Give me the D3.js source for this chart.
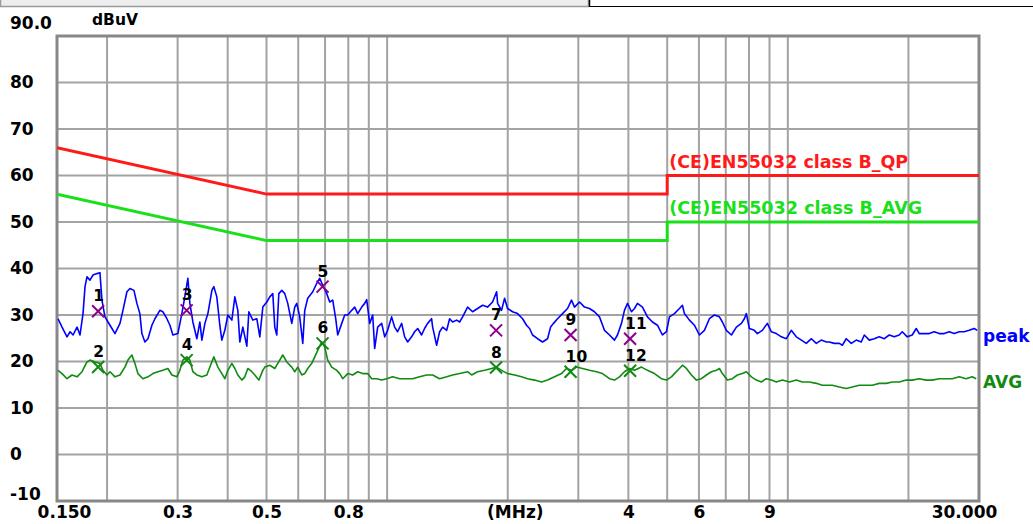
<!DOCTYPE html>
<html>
<head>
<meta charset="utf-8">
<script src="https://cdn.jsdelivr.net/npm/d3@7/dist/d3.min.js"></script>
<style>
  html, body { margin: 0; padding: 0; background: #ffffff; }
  svg { display: block; }
  text { font-family: "DejaVu Sans", sans-serif; font-weight: bold; }
</style>
</head>
<body>
<svg id="chart" width="1033" height="524"></svg>
<script>
// ---- measured spectrum: peak detector trace (MHz, dBuV) ----
const freqPeak = [0.1509,0.1544,0.1589,0.1617,0.1645,0.1683,0.1712,0.1742,0.1762,0.1782,
  0.1813,0.1845,0.1887,0.1920,0.1942,0.1976,0.2011,0.2057,0.2093,0.2154,
  0.2191,0.2242,0.2281,0.2334,0.2374,0.2415,0.2443,0.2486,0.2530,0.2588,
  0.2633,0.2709,0.2756,0.2821,0.2870,0.2920,0.3004,0.3074,0.3127,0.3182,
  0.3219,0.3275,0.3351,0.3409,0.3449,0.3509,0.3570,0.3653,0.3694,0.3758,
  0.3823,0.3868,0.3935,0.4004,0.4097,0.4168,0.4240,0.4289,0.4364,0.4465,
  0.4517,0.4622,0.4729,0.4811,0.4895,
  0.5008,0.5095,0.5184,0.5243,0.5304,0.5366,0.5459,0.5553,0.5649,0.5781,
  0.5881,0.5949,0.6052,0.6158,0.6229,0.6337,0.6522,0.6673,0.6789,0.6907,
  0.7067,0.7190,0.7315,0.7442,0.7528,0.7704,0.7837,0.7973,0.8158,0.8300,
  0.8444,0.8641,0.8791,0.8892,0.9047,0.9204,0.9310,0.9471,0.9692,0.9860,
  1.003,1.026,1.044,1.062,1.087,1.106,1.125,1.151,1.171,1.192,
  1.219,1.240,1.262,1.291,1.299,1.329,1.352,1.376,1.408,1.432,
  1.457,1.491,1.517,1.543,1.588,
  1.634,1.682,1.731,1.781,1.833,1.876,1.887,1.930,1.964,1.998,
  2.056,2.116,2.178,2.228,2.267,2.306,2.374,2.443,2.514,2.558,
  2.602,2.662,2.740,2.820,2.885,2.935,3.021,3.109,3.199,3.292,
  3.388,3.487,3.589,3.693,3.757,3.845,3.911,3.980,4.072,4.143,
  4.215,4.337,4.463,4.594,4.727,4.865,4.978,5.065,5.212,
  5.364,5.457,5.520,5.681,5.846,6.017,6.192,6.372,6.558,6.749,
  6.866,7.025,7.231,7.441,7.658,7.790,7.880,8.018,8.251,8.394,
  8.639,8.890,9.097,9.362,9.635,9.915,10.20,10.50,10.81,11.12,
  11.45,11.78,12.12,12.48,
  12.69,13.06,13.44,13.68,13.99,14.40,14.82,15.25,15.52,15.97,
  16.43,16.91,17.41,17.91,18.43,18.97,19.30,19.86,20.44,20.92,
  21.28,21.90,22.54,23.19,23.87,24.56,25.28,26.02,26.78,27.55,
  28.36,29.18,29.69];
const dbPeak = [29.2,27.4,25.3,26.4,25.7,27.4,25.7,30.3,36.1,38.2,
  37.5,38.6,38.9,39.1,33.2,29.6,28.5,27.1,26.0,28.2,
  31.0,35.0,35.7,35.3,32.5,30.3,26.0,24.2,24.9,27.8,
  29.2,31.0,30.7,29.2,27.8,25.7,26.0,30.3,33.9,37.9,
  32.5,28.5,24.9,28.5,24.6,28.2,30.3,35.3,36.1,33.9,
  27.8,24.6,26.7,30.0,28.9,33.9,31.0,24.2,27.4,23.3,
  30.7,28.9,29.2,25.3,31.7,
  32.8,33.9,34.6,27.4,25.7,34.6,35.3,34.6,32.5,28.2,
  31.7,32.5,29.6,23.9,31.0,33.6,35.0,36.8,37.9,36.4,
  34.6,32.8,33.2,29.2,25.7,28.2,30.0,30.0,31.0,31.7,
  30.3,31.7,32.5,33.3,28.2,30.0,22.8,27.4,28.2,25.3,
  26.7,29.6,27.4,26.4,28.2,25.3,24.2,25.3,26.4,27.1,
  25.7,27.1,28.2,29.2,27.4,23.5,26.4,27.4,26.7,29.2,
  28.5,28.9,28.5,29.6,31.7,
  30.7,31.4,32.1,31.7,32.8,35.0,32.5,31.0,33.6,31.4,
  30.7,30.3,29.2,27.8,27.1,25.7,24.9,24.2,24.9,27.4,
  28.2,29.2,30.3,31.4,33.2,31.7,32.8,31.7,31.4,30.7,
  29.6,26.7,25.7,24.6,25.7,28.2,31.0,32.5,30.7,31.4,
  32.5,31.7,29.6,28.5,27.8,25.7,26.4,29.6,30.3,
  31.4,32.1,30.3,28.9,27.8,25.7,26.7,29.2,30.0,29.6,
  28.5,26.7,25.7,27.4,28.2,29.2,30.3,27.1,26.7,26.0,
  26.7,28.2,26.4,26.0,25.3,24.9,26.7,25.3,24.6,23.9,
  24.9,23.9,24.6,24.2,
  24.2,23.9,23.9,23.5,24.9,23.9,24.6,24.2,25.7,24.6,
  24.9,25.3,24.9,25.7,25.3,25.7,26.4,25.3,25.7,27.1,
  26.0,26.0,26.0,26.4,26.0,26.0,26.4,26.0,26.4,26.4,
  26.7,27.1,26.7];

// ---- measured spectrum: average detector trace (MHz, dBuV) ----
const freqAvg = [0.1509,0.1544,0.1589,0.1635,0.1683,0.1732,0.1782,0.1813,0.1866,0.1920,
  0.1953,0.1999,0.2034,0.2093,0.2154,0.2216,0.2255,0.2307,0.2347,0.2388,
  0.2457,0.2530,0.2603,0.2678,0.2756,0.2837,0.2903,0.2987,0.3039,0.3092,
  0.3164,0.3219,0.3275,0.3351,0.3449,0.3549,0.3611,0.3694,0.3780,0.3868,
  0.3935,0.4004,0.4097,0.4168,0.4240,0.4339,0.4414,0.4491,0.4595,0.4675,
  0.4784,0.4895,0.4951,0.5095,0.5243,0.5335,0.5490,0.5617,0.5781,0.5881,
  0.5983,0.6123,0.6229,0.6337,0.6485,0.6597,0.6711,0.6868,0.6987,0.7108,
  0.7273,0.7485,0.7615,0.7748,0.7973,0.8205,0.8444,0.8691,0.8943,0.9151,
  0.9417,0.9692,0.9973,1.032,1.075,1.119,1.158,1.205,1.255,1.299,
  1.352,1.408,1.457,1.517,1.588,1.625,1.682,1.751,1.823,1.876,
  1.930,1.998,2.080,2.165,2.241,2.333,2.429,2.514,2.617,2.724,
  2.803,2.885,2.969,3.073,3.199,3.330,3.447,3.589,3.693,3.801,
  3.911,4.025,4.143,4.313,4.463,4.647,4.837,4.978,5.123,5.212,
  5.364,5.457,5.584,5.747,5.914,6.087,6.263,6.446,6.633,6.749,
  6.866,7.066,7.272,7.484,7.702,7.880,8.110,8.346,8.590,8.839,
  9.097,9.362,9.690,10.09,10.50,10.87,11.32,11.78,12.19,12.55,
  12.91,13.44,13.99,14.48,15.08,15.70,16.25,16.91,17.61,18.22,
  18.97,19.75,20.44,21.28,22.15,22.93,23.87,24.85,25.72,26.78,
  27.87,28.85,29.52];
const dbAvg = [18.1,17.4,16.3,17.1,16.7,17.8,19.9,20.3,19.9,19.6,
  18.1,17.1,17.8,16.7,17.1,18.8,20.3,21.4,19.6,17.4,
  16.3,16.7,17.4,17.8,18.1,18.5,17.1,16.7,18.1,20.3,
  21.0,20.3,17.8,17.1,16.7,17.1,18.8,21.0,18.8,17.4,
  16.3,18.1,19.6,18.5,17.1,16.0,16.7,18.5,17.8,17.1,
  16.0,18.1,18.8,19.2,18.5,19.6,21.4,19.9,18.8,17.8,
  18.8,17.1,17.4,18.5,19.6,21.0,22.4,24.2,23.1,20.3,
  18.8,18.1,17.4,16.3,17.4,17.1,17.8,17.4,17.4,16.3,
  16.3,16.0,16.3,16.7,16.3,16.3,16.3,16.7,17.1,17.1,
  16.3,16.7,17.1,17.4,17.8,17.1,17.8,18.1,18.5,18.8,
  18.1,17.4,17.1,16.7,16.3,16.0,15.6,16.0,16.7,17.4,
  18.5,18.1,18.8,18.5,18.1,17.8,17.4,16.3,16.0,16.7,
  17.8,18.5,18.1,18.8,18.1,17.4,16.3,16.0,16.7,17.4,
  18.5,19.2,18.5,17.1,16.0,16.3,17.1,17.8,18.1,18.5,
  17.4,16.0,16.3,17.1,17.4,17.8,16.7,16.0,15.6,16.3,
  16.0,15.6,16.0,15.6,16.0,15.6,15.6,15.3,14.9,14.9,
  14.9,14.5,14.2,14.5,14.9,14.9,14.9,15.3,15.3,15.6,
  15.6,16.0,16.0,16.3,16.0,16.0,16.3,16.3,16.3,16.7,
  16.3,16.7,16.3];

// ---- EN55032 class B limit lines (MHz, dBuV) ----
const limitFreq = [0.15, 0.5, 5, 5, 30];
const limitQP   = [66, 56, 56, 60, 60];
const limitAVG  = [56, 46, 46, 50, 50];
const limitNames = ["(CE)EN55032 class B_QP", "(CE)EN55032 class B_AVG"];

// ---- marker readings ----
const markerNo   = [1, 2, 3, 4, 5, 6, 7, 8, 9, 10, 11, 12];
const markerFreq = [0.190, 0.190, 0.316, 0.316, 0.690, 0.690, 1.87, 1.87, 2.87, 2.87, 4.04, 4.04];
const markerDb   = [30.8, 18.8, 31.0, 20.3, 36.1, 23.9, 26.7, 18.7, 25.7, 17.8, 24.9, 18.0];

// ---- axes ----
const yTicks = [90, 80, 70, 60, 50, 40, 30, 20, 10, 0, -10];
const yTickLabels = ["90.0", "80", "70", "60", "50", "40", "30", "20", "10", "0", "-10"];
const xGrid = [0.2, 0.3, 0.4, 0.5, 0.6, 0.7, 0.8, 0.9, 1, 2, 3, 4, 5, 6, 7, 8, 9, 10, 20];
const xTicks = [0.15, 0.3, 0.5, 0.8, 2, 4, 6, 9, 30];
const xTickLabels = ["0.150", "0.3", "0.5", "0.8", "(MHz)", "4", "6", "9", "30.000"];

const svg = d3.select("#chart");
const L = 57, R = 979, T = 36, B = 501;

const x = d3.scaleLog().domain([0.15, 30]).range([L, R]);
const y = d3.scaleLinear().domain([-10, 90]).range([B, T]);

// header strip
svg.append("rect").attr("x", 0.5).attr("y", -1).attr("width", 588).attr("height", 7.5)
  .attr("fill", "#eeeeee").attr("stroke", "#9a9a9a").attr("stroke-width", 1.5);
svg.append("line").attr("x1", 589.5).attr("x2", 589.5).attr("y1", 0).attr("y2", 7)
  .attr("stroke", "#000").attr("stroke-width", 1.5);
svg.append("line").attr("x1", 589).attr("x2", 1033).attr("y1", 6.5).attr("y2", 6.5)
  .attr("stroke", "#000").attr("stroke-width", 1.2);

// grid
const grid = svg.append("g");
grid.selectAll("line.v").data(xGrid).join("line")
  .attr("x1", d => x(d)).attr("x2", d => x(d)).attr("y1", T).attr("y2", B)
  .attr("stroke", "#a3a3a3").attr("stroke-width", 2);
grid.selectAll("line.h").data(yTicks.filter(d => d > -10 && d < 90)).join("line")
  .attr("x1", L).attr("x2", R).attr("y1", d => y(d)).attr("y2", d => y(d))
  .attr("stroke", "#a3a3a3").attr("stroke-width", 2);
svg.append("rect").attr("x", L).attr("y", T).attr("width", R - L).attr("height", B - T)
  .attr("fill", "none").attr("stroke", "#888888").attr("stroke-width", 3);

// y axis labels
const yAxis = d3.axisLeft(y).tickValues(yTicks).tickSize(0)
  .tickFormat((d, i) => yTickLabels[i]);
const gy = svg.append("g").attr("transform", `translate(${L},0)`).call(yAxis);
gy.select(".domain").remove();
gy.selectAll("text")
  .attr("x", 10 - L).attr("text-anchor", "start")
  .attr("dy", d => d === 90 ? "-0.47em" : (d === -10 ? "-0.1em" : "0.3em"))
  .attr("font-size", 17).attr("fill", "#000")
  .style("font-family", "'DejaVu Sans', sans-serif").style("font-weight", "bold");

svg.append("text").attr("x", 92).attr("y", 25).attr("font-size", 15.5)
  .attr("fill", "#000").text("dBuV");

// x axis labels
const labelShift = {0.15: 7, 2: 7, 30: -15};
const xAxis = d3.axisBottom(x).tickValues(xTicks).tickSize(0)
  .tickFormat((d, i) => xTickLabels[i]);
const gx = svg.append("g").attr("transform", `translate(0,${B})`).call(xAxis);
gx.select(".domain").remove();
gx.selectAll("text")
  .attr("y", 17).attr("dy", 0)
  .attr("dx", d => labelShift[d] || 0)
  .attr("font-size", 17).attr("fill", "#000")
  .style("font-family", "'DejaVu Sans', sans-serif").style("font-weight", "bold");

// clip for traces
svg.append("clipPath").attr("id", "plotClip").append("rect")
  .attr("x", L).attr("y", T).attr("width", R - L).attr("height", B - T);
const plot = svg.append("g").attr("clip-path", "url(#plotClip)");

const line = d3.line().x(d => x(d[0])).y(d => y(d[1]));

// limit lines
plot.append("path").datum(d3.zip(limitFreq, limitQP)).attr("d", line)
  .attr("fill", "none").attr("stroke", "#ff1a1a").attr("stroke-width", 3);
plot.append("path").datum(d3.zip(limitFreq, limitAVG)).attr("d", line)
  .attr("fill", "none").attr("stroke", "#19e019").attr("stroke-width", 3);

svg.append("text").attr("x", x(5) + 2).attr("y", y(limitQP[4]) - 8)
  .attr("font-size", 17).attr("fill", "#ff1a1a")
  .attr("textLength", 239).attr("lengthAdjust", "spacingAndGlyphs").text(limitNames[0]);
svg.append("text").attr("x", x(5) + 2).attr("y", y(limitAVG[4]) - 8)
  .attr("font-size", 17).attr("fill", "#19e019")
  .attr("textLength", 253).attr("lengthAdjust", "spacingAndGlyphs").text(limitNames[1]);

// traces
plot.append("path").datum(d3.zip(freqAvg, dbAvg)).attr("d", line)
  .attr("fill", "none").attr("stroke", "#118a11").attr("stroke-width", 1.6)
  .attr("stroke-linejoin", "round");
plot.append("path").datum(d3.zip(freqPeak, dbPeak)).attr("d", line)
  .attr("fill", "none").attr("stroke", "#0000ff").attr("stroke-width", 1.6)
  .attr("stroke-linejoin", "round");

svg.append("text").attr("x", 983).attr("y", y(dbPeak[dbPeak.length - 1]) + 12)
  .attr("font-size", 17).attr("fill", "#0000ff").text("peak");
svg.append("text").attr("x", 983).attr("y", y(dbAvg[dbAvg.length - 1]) + 9)
  .attr("font-size", 17).attr("fill", "#118a11").text("AVG");

// markers
const markers = markerNo.map((n, i) => ({n, f: markerFreq[i], v: markerDb[i]}));
const mg = svg.append("g");
mg.selectAll("path").data(markers).join("path")
  .attr("d", d => {
    const cx = x(d.f), cy = y(d.v), s = 6;
    return `M${cx - s},${cy - s}L${cx + s},${cy + s}M${cx - s},${cy + s}L${cx + s},${cy - s}`;
  })
  .attr("fill", "none")
  .attr("stroke", d => d.n % 2 === 1 ? "#8b008b" : "#118a11")
  .attr("stroke-width", 2);
mg.selectAll("text").data(markers).join("text")
  .attr("x", d => x(d.f) - 5).attr("y", d => y(d.v) - 10)
  .attr("font-size", 15.5).attr("fill", "#000").text(d => d.n);
</script>
</body>
</html>
